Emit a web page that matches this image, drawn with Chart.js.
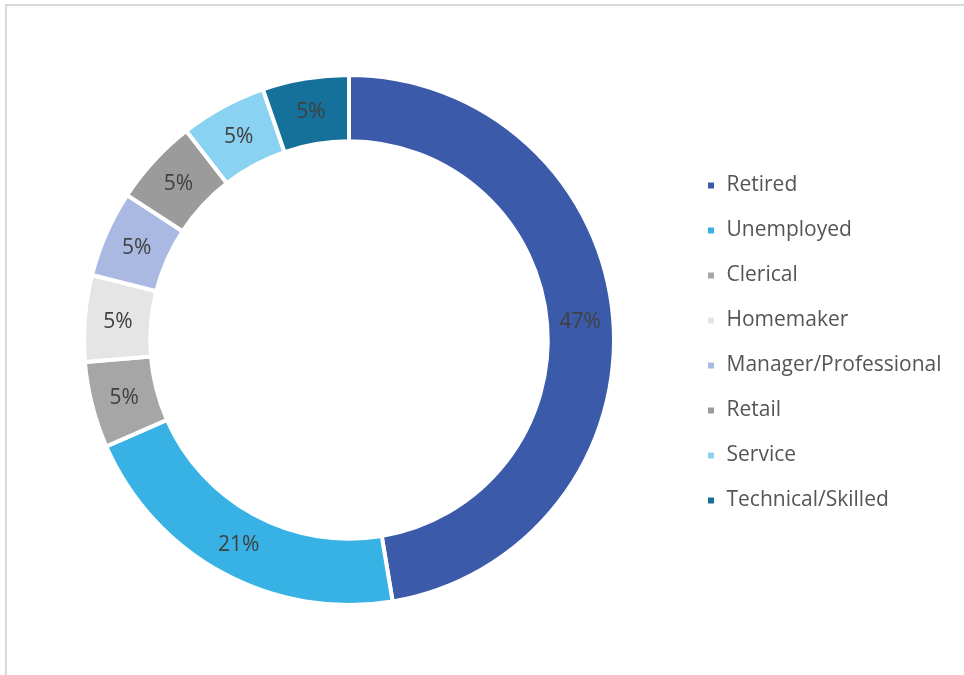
<!DOCTYPE html>
<html>
<head>
<meta charset="utf-8">
<script src="https://cdn.jsdelivr.net/npm/chart.js@4/dist/chart.umd.min.js"></script>
<style>
    html, body { margin: 0; padding: 0; background: #fff; }
    .frame {
        position: absolute; left: 5px; top: 4px; width: 980px; height: 700px;
        border-left: 2px solid #d9d9d9; border-top: 2px solid #d9d9d9;
    }
    #occChart { position: absolute; left: 0; top: 0; }
</style>
</head>
<body>
<div class="frame"></div>
<canvas id="occChart" width="964" height="675"></canvas>
<script>
// Occupation breakdown (respondent counts)
const occupations = ['Retired', 'Unemployed', 'Clerical', 'Homemaker',
    'Manager/Professional', 'Retail', 'Service', 'Technical/Skilled'];
const counts = [9, 4, 1, 1, 1, 1, 1, 1];
const sliceColors = ['#3B5BAA', '#38B2E5', '#A6A6A6', '#E5E5E5',
    '#A9B9E1', '#9B9B9B', '#89D2F1', '#15709A'];

const FONT = "'Open Sans', 'Noto Sans', sans-serif";

// percentage text in the middle of each ring segment
const sliceLabels = {
    id: 'sliceLabels',
    afterDatasetsDraw(chart) {
        const { ctx } = chart;
        const data = chart.data.datasets[0].data;
        const total = data.reduce((a, b) => a + b, 0);
        ctx.save();
        ctx.font = `21px ${FONT}`;
        ctx.fillStyle = '#404040';
        ctx.textAlign = 'center';
        ctx.textBaseline = 'middle';
        chart.getDatasetMeta(0).data.forEach((arc, i) => {
            const p = arc.tooltipPosition();
            ctx.fillText(Math.round(data[i] / total * 100) + '%', p.x, p.y + 1);
        });
        ctx.restore();
    }
};

// fixed legend column width, nudged a little lower
const legendBox = {
    id: 'legendBox',
    beforeInit(chart) {
        const fit = chart.legend.fit;
        chart.legend.fit = function () {
            fit.call(this);
            this.width = 282;
        };
    },
    afterLayout(chart) {
        chart.legend.top += 3;
        chart.legend.bottom += 3;
    }
};

new Chart(document.getElementById('occChart'), {
    type: 'doughnut',
    data: {
        labels: occupations,
        datasets: [{
            data: counts,
            backgroundColor: sliceColors,
            borderColor: '#FFFFFF',
            borderWidth: 4,
            hoverOffset: 0
        }]
    },
    options: {
        responsive: false,
        animation: false,
        cutout: '75%',
        layout: { padding: { left: 16, right: 0, top: 73, bottom: 68 } },
        plugins: {
            legend: {
                position: 'right',
                labels: {
                    boxWidth: 10, boxHeight: 10, padding: 24,
                    color: '#555555',
                    font: { family: FONT, size: 21 }
                }
            },
            tooltip: { enabled: false }
        }
    },
    plugins: [sliceLabels, legendBox]
});
</script>
</body>
</html>
